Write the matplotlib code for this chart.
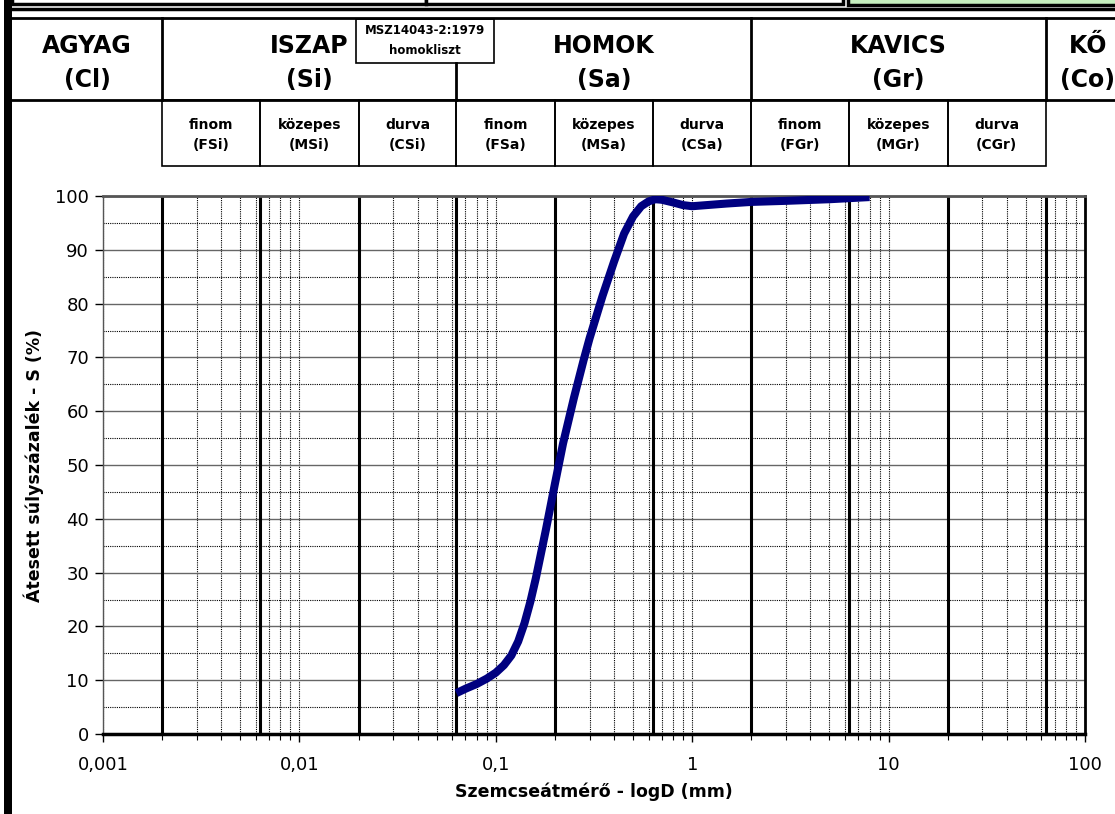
import numpy as np
import matplotlib
matplotlib.use("Agg")
from matplotlib import pyplot as plt
from matplotlib.ticker import LogLocator, FuncFormatter, MultipleLocator, NullFormatter
from matplotlib.transforms import blended_transform_factory
from matplotlib.patches import Rectangle

# grain size (mm) and passing percentage
diam = [0.063, 0.07, 0.08, 0.09, 0.1, 0.11, 0.12, 0.13, 0.14, 0.15, 0.16, 0.18, 0.2,
        0.22, 0.25, 0.28, 0.3, 0.35, 0.4, 0.45, 0.5, 0.55, 0.6, 0.65, 0.7, 0.8, 0.9, 1.0,
        1.5, 2.0, 3.0, 5.0, 8.0]
passing = [7.6, 8.4, 9.3, 10.3, 11.4, 12.8, 14.6, 17.2, 20.6, 24.6, 29.0, 38.0, 46.5,
           54.0, 62.5, 69.5, 73.5, 81.5, 87.8, 93.0, 96.2, 98.1, 99.0, 99.4, 99.3, 98.8, 98.3, 98.1,
           98.6, 98.9, 99.1, 99.4, 99.8]

# soil class boundaries (mm)
bounds = [0.002, 0.0063, 0.02, 0.063, 0.2, 0.63, 2.0, 6.3, 20.0, 63.0]
main_names = ["AGYAG\n(Cl)", "ISZAP\n(Si)", "HOMOK\n(Sa)", "KAVICS\n(Gr)", "KŐ\n(Co)"]
sub_names = ["finom\n(FSi)", "közepes\n(MSi)", "durva\n(CSi)",
             "finom\n(FSa)", "közepes\n(MSa)", "durva\n(CSa)",
             "finom\n(FGr)", "közepes\n(MGr)", "durva\n(CGr)"]
y_ticks = np.arange(0, 101, 10)
x_range = (0.001, 100)

W, H = 1115, 814
fig = plt.figure(figsize=(W / 100, H / 100), dpi=100)
ax = fig.add_axes([103 / W, 1 - 734 / H, (1085 - 103) / W, (734 - 196) / H])
hdr = fig.add_axes([0, 0, 1, 1], zorder=-1)
hdr.set_xlim(0, W); hdr.set_ylim(H, 0); hdr.axis("off")

ax.set_xscale("log")
ax.set_xlim(*x_range)
ax.set_ylim(0, 100)

# grid
ax.yaxis.set_major_locator(MultipleLocator(10))
ax.yaxis.set_minor_locator(MultipleLocator(5))
ax.xaxis.set_major_locator(LogLocator(base=10))
ax.xaxis.set_minor_locator(LogLocator(base=10, subs=np.arange(2, 10)))
ax.xaxis.set_minor_formatter(NullFormatter())
ax.xaxis.set_major_formatter(FuncFormatter(lambda v, p: f"{v:g}".replace(".", ",")))
ax.yaxis.grid(True, which="major", color="#666666", lw=1.0, ls="-")
ax.yaxis.grid(True, which="minor", color="black", lw=0.8, ls=(0, (1, 1)))
ax.xaxis.grid(True, which="both", color="black", lw=0.8, ls=(0, (1, 1)))
ax.set_axisbelow(True)
for b in bounds:
    ax.axvline(b, color="black", lw=2.2, zorder=2)

ax.plot(diam, passing, color="#000080", lw=5.8, solid_joinstyle="round",
        solid_capstyle="butt", zorder=3)

ax.set_yticks(y_ticks)
ax.tick_params(axis="y", which="major", length=6, width=1, labelsize=13, pad=4)
ax.tick_params(axis="y", which="minor", length=0)
ax.tick_params(axis="x", which="major", length=6, width=1, labelsize=13, pad=10)
ax.tick_params(axis="x", which="minor", length=4, width=0.8)
ax.set_xlabel("Szemcseátmérő - logD (mm)", fontsize=12.5, fontweight="bold", labelpad=6)
ax.set_ylabel("Átesett súlyszázalék - S (%)", fontsize=12.5, fontweight="bold", labelpad=8)

ax.spines["bottom"].set_linewidth(2.5)
ax.spines["top"].set_color("#555555"); ax.spines["top"].set_linewidth(2)
ax.spines["left"].set_color("#555555"); ax.spines["left"].set_linewidth(1)
ax.spines["right"].set_linewidth(2)

# header table: x in data units of the plot, y in figure pixels
tr = blended_transform_factory(ax.transData, hdr.transData)
px = lambda v: 10 ** (np.log10(x_range[0]) + (v - 103) / 196.4)
left_edge, right_edge = px(12), px(1130)
main_edges = [left_edge, bounds[0], bounds[3], bounds[6], bounds[9], right_edge]
kw = dict(transform=tr, clip_on=False, color="black")

row1_top, row1_bot, row2_bot = 18, 100, 166
ax.plot([left_edge, right_edge], [row1_top, row1_top], lw=2, **kw)
ax.plot([left_edge, right_edge], [row1_bot, row1_bot], lw=2, **kw)
for i, name in enumerate(main_names):
    a, b = main_edges[i], main_edges[i + 1]
    if 0 < i:
        top = 63 if i == 2 else row1_top
        ax.plot([a, a], [top, row1_bot], lw=2, **kw)
    c = np.sqrt(a * b)
    l1, l2 = name.split("\n")
    ax.text(c, 46, l1, transform=tr, ha="center", va="center", fontsize=17,
            fontweight="bold", clip_on=False)
    ax.text(c, 80, l2, transform=tr, ha="center", va="center", fontsize=17,
            fontweight="bold", clip_on=False)

# sub class boxes
sub_edges = bounds
for i, name in enumerate(sub_names):
    a, b = sub_edges[i], sub_edges[i + 1]
    ax.add_patch(Rectangle((a, row1_bot), b - a, row2_bot - row1_bot, transform=tr,
                           fill=False, ec="black", lw=1.2, clip_on=False))
    l1, l2 = name.split("\n")
    c = np.sqrt(a * b)
    ax.text(c, 125, l1, transform=tr, ha="center", va="center", fontsize=10,
            fontweight="bold", clip_on=False)
    ax.text(c, 145, l2, transform=tr, ha="center", va="center", fontsize=10,
            fontweight="bold", clip_on=False)

# MSZ note box
hdr.add_patch(Rectangle((356, 19), 138, 44, fc="white", ec="black", lw=1.2))
hdr.text(425, 31, "MSZ14043-2:1979", ha="center", va="center", fontsize=8.5, fontweight="bold")
hdr.text(425, 50, "homokliszt", ha="center", va="center", fontsize=8.5, fontweight="bold")

# top strip and left bar
hdr.add_patch(Rectangle((12, -6), 414, 10, fc="white", ec="black", lw=2.5))
hdr.add_patch(Rectangle((426, -6), 417, 10, fc="white", ec="black", lw=2.5))
hdr.add_patch(Rectangle((848, -6), 280, 11, fc="#c6efbf", ec="black", lw=2.5))
hdr.plot([12, W], [9, 9], color="black", lw=2.5)
hdr.add_patch(Rectangle((4, 0), 8, H, fc="black", ec="none"))

fig.savefig("out.png", dpi=100)
